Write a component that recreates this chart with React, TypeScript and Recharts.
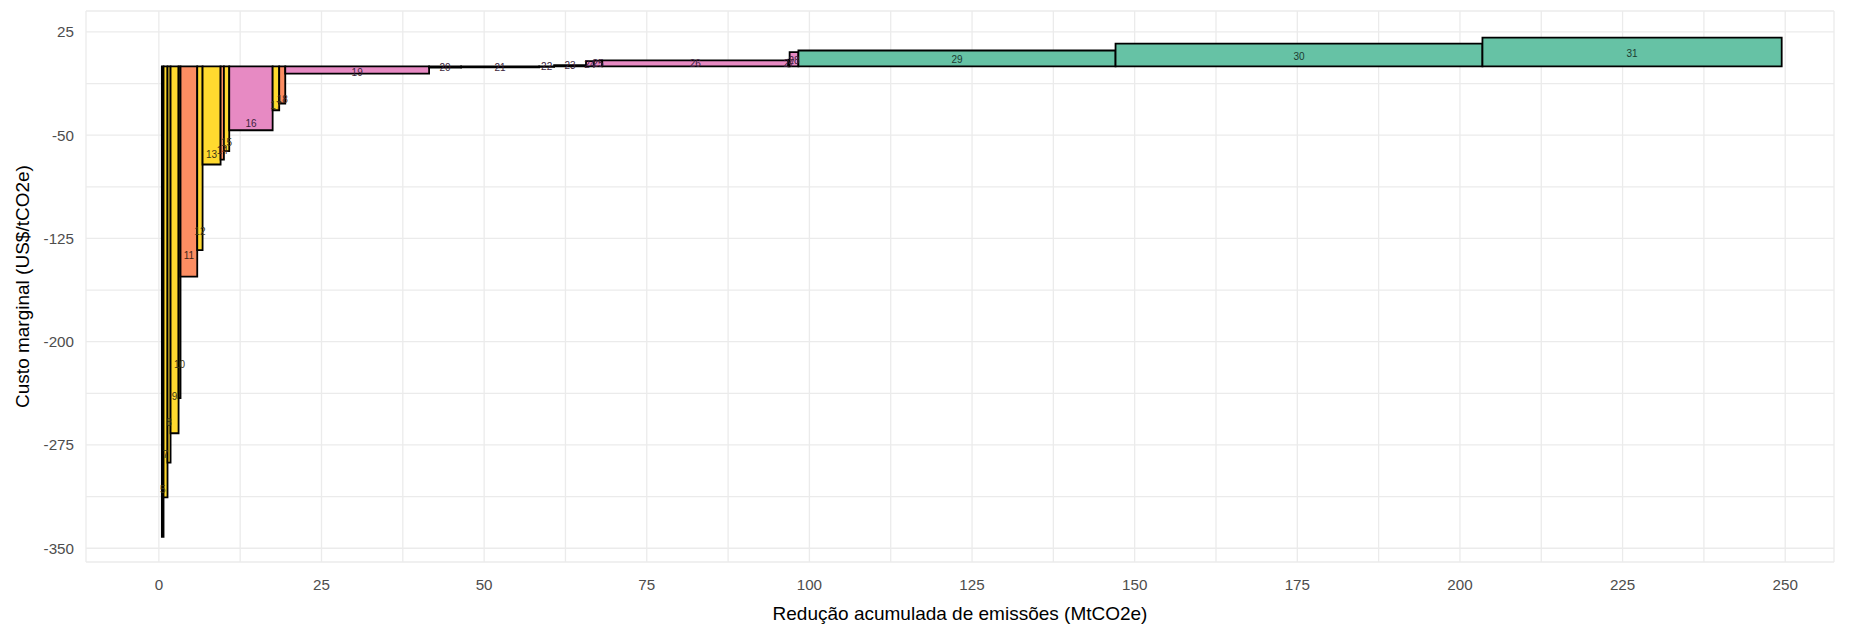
import React from 'react';
import { ComposedChart, Scatter, XAxis, YAxis, CartesianGrid, ReferenceArea } from 'recharts';

// measure ids, as printed on the bars
const measures = ['5', '7', '8', '9', '10', '11', '12', '13', '14', '15', '16', '17', '18', '19', '20', '21', '22', '23', '24', '25', '26', '27', '28', '29', '30', '31'];
// abatement potential of each measure (MtCO2e)
const widths = [0.26, 0.61, 0.47, 1.23, 0.3, 2.57, 0.82, 2.77, 0.51, 0.82, 6.67, 1.01, 0.93, 22.11, 4.92, 12.0, 2.3, 4.9, 1.2, 1.3, 28.6, 0.2, 1.35, 48.75, 56.4, 46.0];
// marginal cost (US$/tCO2e)
const costs = [-341.8, -313, -287.8, -266.5, -241, -152.8, -133.5, -71.3, -67.7, -61.6, -46.4, -31.9, -27, -5.3, -0.9, -0.7, -0.4, 0.9, 3.8, 4.2, 4.4, 4.8, 10.4, 11.5, 16.5, 20.8];
// sector group of each measure
const groups = ['A', 'A', 'A', 'A', 'A', 'B', 'A', 'A', 'B', 'A', 'C', 'A', 'B', 'C', 'C', 'C', 'C', 'C', 'C', 'C', 'C', 'C', 'C', 'D', 'D', 'D'];
// first measure does not start exactly at zero
const firstStart = 0.46;

const xTicks = [0, 12.5, 25, 37.5, 50, 62.5, 75, 87.5, 100, 112.5, 125, 137.5, 150, 162.5, 175, 187.5, 200, 212.5, 225, 237.5, 250];
const yTicks = [-350, -312.5, -275, -237.5, -200, -162.5, -125, -87.5, -50, -12.5, 25];

const fills: Record<string, string> = { A: '#FFD92F', B: '#FC8D62', C: '#E78AC3', D: '#66C2A5' };
const textColors: Record<string, string> = { A: '#3d3716', B: '#3f2418', C: '#3e1f3d', D: '#1c3a31' };

// cumulative positions
const rects = measures.map((m, i) => {
  const start = firstStart + widths.slice(0, i).reduce((a, b) => a + b, 0);
  return { id: m, x1: start, x2: start + widths[i], cost: costs[i], group: groups[i] };
});

const labelData = rects.map((r) => ({
  x: (r.x1 + r.x2) / 2,
  y: r.cost < 0 ? r.cost * 0.9 : r.cost * 0.44,
  id: r.id,
  group: r.group,
}));

const LabelShape = (props: any) => {
  const { cx, cy, payload } = props;
  return (
    <text x={cx} y={cy} textAnchor="middle" dominantBaseline="central" fontSize={10} fill={textColors[payload.group]}>
      {payload.id}
    </text>
  );
};

const App = () => {
  return (
    <div style={{ position: 'absolute', left: 0, top: 0, width: 1859, height: 627, background: '#fff', fontFamily: '"Liberation Sans", Arial, sans-serif' }}>
      <ComposedChart width={1859} height={627} margin={{ top: 11, right: 25, left: 0, bottom: 0 }}>
        <CartesianGrid stroke="#ebebeb" strokeWidth={1.3} />
        <XAxis
          type="number"
          dataKey="x"
          domain={[-11.2, 257.5]}
          ticks={xTicks}
          allowDataOverflow
          tickFormatter={(v: number) => (v % 25 === 0 ? String(v) : '')}
          axisLine={false}
          tickLine={false}
          tickSize={0}
          tickMargin={17}
          height={65}
          tick={{ fill: '#4d4d4d', fontSize: 15.2 }}
          label={{ value: 'Redução acumulada de emissões (MtCO2e)', position: 'insideBottom', offset: 7, fill: '#000', fontSize: 19 }}
        />
        <YAxis
          type="number"
          dataKey="y"
          domain={[-360, 40.2]}
          ticks={yTicks}
          allowDataOverflow
          tickFormatter={(v: number) => ((v + 350) % 75 === 0 ? String(v) : '')}
          axisLine={false}
          tickLine={false}
          tickSize={0}
          tickMargin={12}
          width={86}
          tick={{ fill: '#4d4d4d', fontSize: 15.2 }}
          label={{ value: 'Custo marginal (US$/tCO2e)', angle: -90, position: 'insideLeft', offset: 22, fill: '#000', fontSize: 19, style: { textAnchor: 'middle' } }}
        />
        {rects.map((r) => (
          <ReferenceArea
            key={r.id}
            x1={r.x1}
            x2={r.x2}
            y1={0}
            y2={r.cost}
            fill={fills[r.group]}
            fillOpacity={1}
            stroke="#000"
            strokeWidth={1.8}
          />
        ))}
        <Scatter data={labelData} dataKey="y" shape={LabelShape} isAnimationActive={false} />
      </ComposedChart>
    </div>
  );
};

export default App;
